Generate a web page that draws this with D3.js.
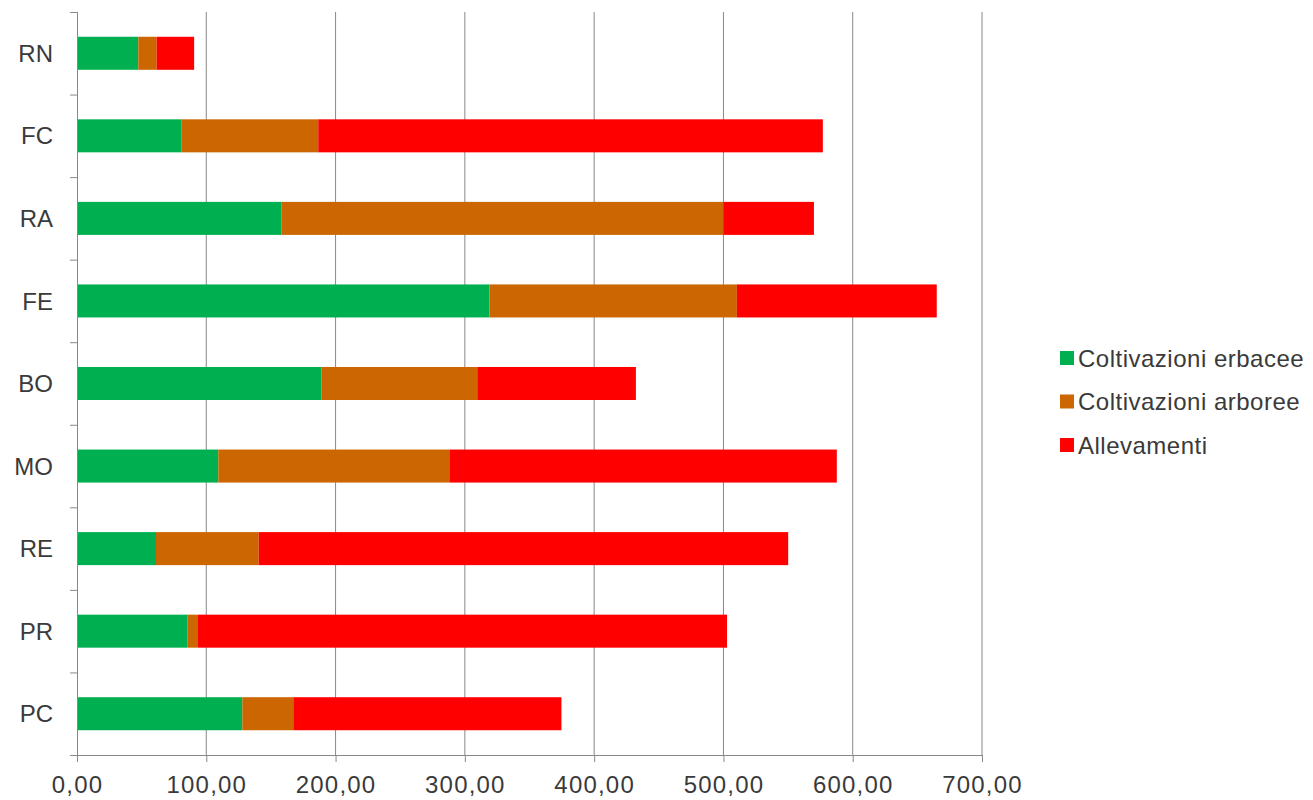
<!DOCTYPE html>
<html>
<head>
<meta charset="utf-8">
<script src="https://cdn.jsdelivr.net/npm/d3@7"></script>
<style>
  body { margin: 0; background: #fff; }
  text { font-family: "Liberation Sans", Arial, sans-serif; fill: #3a3a3a; }
</style>
</head>
<body>
<div class="graphic"></div>
<script>
var provinces = ["RN", "FC", "RA", "FE", "BO", "MO", "RE", "PR", "PC"];
var seriesNames = ["Coltivazioni erbacee", "Coltivazioni arboree", "Allevamenti"];
var erbacee = [47.4, 81.0, 158.3, 319.0, 189.2, 109.3, 61.1, 85.6, 127.9];
var arboree = [14.2, 105.6, 341.7, 191.4, 120.4, 179.2, 79.4, 8.0, 39.4];
var allevamenti = [29.0, 390.3, 70.0, 154.6, 122.7, 299.2, 409.6, 409.2, 207.4];
var xTicks = [0, 100, 200, 300, 400, 500, 600, 700];
var seriesColors = ["#00b050", "#cc6600", "#ff0000"];

var width = 1313, height = 800;
var margin = { top: 12, left: 77, bottom: 45 };
var plotRight = 982;

var svg = d3.select(".graphic").append("svg")
    .attr("width", width)
    .attr("height", height);

var rows = provinces.map(function (p, i) {
    return { prov: p, erbacee: erbacee[i], arboree: arboree[i], allevamenti: allevamenti[i] };
});
var keys = ["erbacee", "arboree", "allevamenti"];
var stacked = d3.stack().keys(keys)(rows);

var x = d3.scaleLinear().domain([0, 700]).range([margin.left, plotRight]);
var y = d3.scaleBand().domain(provinces)
    .range([margin.top, height - margin.bottom])
    .paddingInner(0.6).paddingOuter(0.3);

var itFormat = d3.formatLocale({ decimal: ",", thousands: ".", grouping: [3], currency: ["€", ""] }).format(".2f");

var yBottom = height - margin.bottom;

// gridlines
svg.append("g")
    .selectAll("line")
    .data(xTicks.slice(1))
    .join("line")
    .attr("x1", function (d) { return x(d); })
    .attr("x2", function (d) { return x(d); })
    .attr("y1", margin.top)
    .attr("y2", yBottom)
    .attr("stroke", "#888")
    .attr("stroke-width", 1);

// bars
svg.append("g")
    .selectAll("g")
    .data(stacked)
    .join("g")
    .attr("fill", function (d, i) { return seriesColors[i]; })
    .selectAll("rect")
    .data(function (d) { return d; })
    .join("rect")
    .attr("x", function (d) { return x(d[0]); })
    .attr("width", function (d) { return x(d[1]) - x(d[0]); })
    .attr("y", function (d) { return y(d.data.prov); })
    .attr("height", y.bandwidth());

// x axis
var xAxis = svg.append("g")
    .attr("transform", "translate(0," + yBottom + ")")
    .call(d3.axisBottom(x).tickValues(xTicks).tickFormat(itFormat).tickSize(7).tickSizeOuter(0).tickPadding(14));
xAxis.select(".domain").attr("stroke", "#888").attr("d", "M" + (margin.left - 7) + ",0.5H" + plotRight);
xAxis.selectAll(".tick line").attr("stroke", "#888");
xAxis.selectAll("text").attr("font-size", 24).attr("font-family", "Liberation Sans, Arial, sans-serif")
    .attr("fill", "#3a3a3a").style("letter-spacing", "1.2px");

// y axis: line with ticks at band boundaries
var boundaries = d3.range(provinces.length + 1).map(function (i) { return margin.top + i * (yBottom - margin.top) / provinces.length; });
svg.append("line")
    .attr("x1", margin.left + 0.5).attr("x2", margin.left + 0.5)
    .attr("y1", margin.top).attr("y2", yBottom + 7)
    .attr("stroke", "#888");
svg.append("g")
    .selectAll("line")
    .data(boundaries.slice(0, -1))
    .join("line")
    .attr("x1", margin.left - 7).attr("x2", margin.left)
    .attr("y1", function (d) { return d + 0.5; })
    .attr("y2", function (d) { return d + 0.5; })
    .attr("stroke", "#888");

svg.append("g")
    .selectAll("text")
    .data(provinces)
    .join("text")
    .attr("x", margin.left - 24)
    .attr("y", function (d) { return y(d) + y.bandwidth() / 2; })
    .attr("dy", "0.36em")
    .attr("text-anchor", "end")
    .attr("font-size", 24)
    .text(function (d) { return d; });

// legend
var legend = svg.append("g").attr("transform", "translate(1060,358)");
var item = legend.selectAll("g")
    .data(seriesNames)
    .join("g")
    .attr("transform", function (d, i) { return "translate(0," + i * 43.5 + ")"; });
item.append("rect")
    .attr("x", 0).attr("y", -7)
    .attr("width", 14).attr("height", 14)
    .attr("fill", function (d, i) { return seriesColors[i]; });
item.append("text")
    .attr("x", 18)
    .attr("dy", "0.36em")
    .attr("font-size", 24)
    .style("letter-spacing", "0.5px")
    .text(function (d) { return d; });
</script>
</body>
</html>
